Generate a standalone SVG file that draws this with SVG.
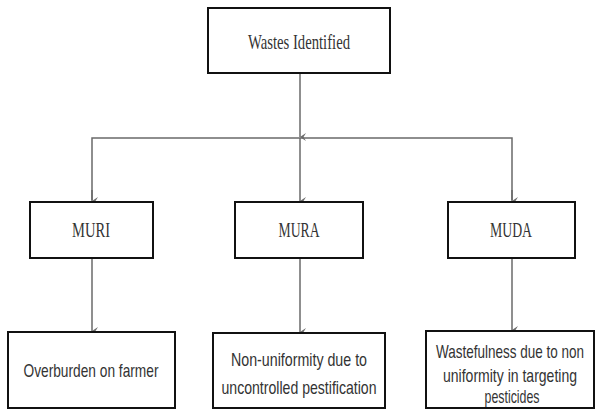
<svg xmlns="http://www.w3.org/2000/svg" width="595" height="409" viewBox="0 0 595 409">
  <style>
    .box { fill: #ffffff; stroke: #111111; stroke-width: 2; }
    .link { fill: none; stroke: #6a6a6a; stroke-width: 1.5; }
    .serif { font-family: "Liberation Serif", "Times New Roman", serif; font-size: 22px; fill: #333333; text-anchor: middle; }
    .sans { font-family: "Liberation Sans", Arial, sans-serif; font-size: 14px; fill: #333333; text-anchor: middle; }
  </style>
  <defs>
    <marker id="arrow" markerWidth="10" markerHeight="10" refX="5" refY="9" orient="auto" markerUnits="userSpaceOnUse" viewBox="0 0 10 10">
      <path d="M1,3 L5,9 L9,3 L5,5.5 Z" fill="#6a6a6a"/>
    </marker>
  </defs>
  <rect width="595" height="409" fill="#ffffff"/>

  <g id="connectors">
    <line class="link" x1="300" y1="73" x2="300" y2="137" marker-end="url(#arrow)"/>
    <polyline class="link" points="92,200 92,138 512,138 512,200"/>
    <line class="link" x1="92" y1="190" x2="92" y2="201" marker-end="url(#arrow)"/>
    <line class="link" x1="300" y1="138" x2="300" y2="201" marker-end="url(#arrow)"/>
    <line class="link" x1="512" y1="190" x2="512" y2="201" marker-end="url(#arrow)"/>
    <line class="link" x1="92" y1="258" x2="92" y2="331" marker-end="url(#arrow)"/>
    <line class="link" x1="300" y1="258" x2="300" y2="332" marker-end="url(#arrow)"/>
    <line class="link" x1="512" y1="258" x2="512" y2="330" marker-end="url(#arrow)"/>
  </g>

  <g id="wastes-identified">
    <rect class="box" x="208" y="8" width="182" height="65"/>
    <text class="serif" x="299" y="49" textLength="102" lengthAdjust="spacingAndGlyphs">Wastes Identified</text>
  </g>

  <g id="muri">
    <rect class="box" x="30" y="202" width="123" height="56"/>
    <text class="serif" x="91" y="237" textLength="38" lengthAdjust="spacingAndGlyphs">MURI</text>
  </g>
  <g id="mura">
    <rect class="box" x="235" y="202" width="128" height="56"/>
    <text class="serif" x="299" y="237" textLength="41" lengthAdjust="spacingAndGlyphs">MURA</text>
  </g>
  <g id="muda">
    <rect class="box" x="448" y="202" width="127" height="56"/>
    <text class="serif" x="511" y="237" textLength="42" lengthAdjust="spacingAndGlyphs">MUDA</text>
  </g>

  <!-- lower-row labels are set in a tall, narrow face: small size stretched vertically -->
  <g id="overburden">
    <rect class="box" x="8" y="332" width="167" height="76"/>
    <text class="sans" transform="translate(91 377) scale(1 1.3)" textLength="135" lengthAdjust="spacingAndGlyphs">Overburden on farmer</text>
  </g>
  <g id="non-uniformity">
    <rect class="box" x="213" y="333" width="172" height="75"/>
    <text class="sans" transform="translate(299 366) scale(1 1.3)" textLength="136" lengthAdjust="spacingAndGlyphs">Non-uniformity due to</text>
    <text class="sans" transform="translate(299 394) scale(1 1.3)" textLength="155" lengthAdjust="spacingAndGlyphs">uncontrolled pestification</text>
  </g>
  <g id="wastefulness">
    <rect class="box" x="426" y="331" width="168" height="77"/>
    <text class="sans" transform="translate(510 358) scale(1 1.3)" textLength="148" lengthAdjust="spacingAndGlyphs">Wastefulness due to non</text>
    <text class="sans" transform="translate(510 382) scale(1 1.3)" textLength="134" lengthAdjust="spacingAndGlyphs">uniformity in targeting</text>
    <text class="sans" transform="translate(512 403) scale(1 1.3)" textLength="55" lengthAdjust="spacingAndGlyphs">pesticides</text>
  </g>
</svg>
